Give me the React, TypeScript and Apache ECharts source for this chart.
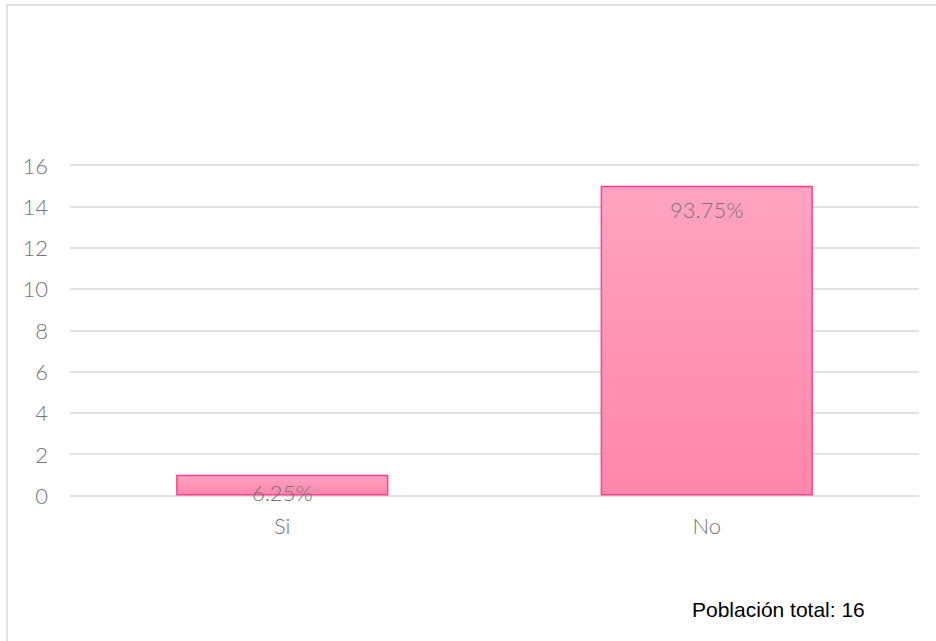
import React, { useEffect, useRef } from "react";
import * as echarts from "echarts";

const categories = ["Si", "No"];
const counts = [1, 15];
const percentLabels = ["6.25%", "93.75%"];
const yTicks = { min: 0, max: 16, interval: 2 };
const noteText = "Población total: 16";

export default function App() {
  const ref = useRef<HTMLDivElement>(null);
  useEffect(() => {
    if (!ref.current) return;
    const chart = echarts.init(ref.current, null, { renderer: "svg" });
    const labelDistances = [7, 13];
    const textColor = "#747474";
    chart.setOption({
      animation: false,
      backgroundColor: "#ffffff",
      grid: { left: 70, right: 17, top: 165, bottom: 145.5, containLabel: false },
      xAxis: {
        type: "category",
        data: categories,
        axisLine: { show: false },
        axisTick: { show: false },
        axisLabel: {
          color: textColor,
          fontFamily: "Lato",
          fontWeight: 300,
          fontSize: 22,
          margin: 19,
        },
      },
      yAxis: {
        type: "value",
        min: yTicks.min,
        max: yTicks.max,
        interval: yTicks.interval,
        axisLine: { show: false },
        axisTick: { show: false },
        splitLine: { lineStyle: { color: "#d9d9d9", width: 1.5 } },
        axisLabel: {
          color: textColor,
          fontFamily: "Lato",
          fontWeight: 300,
          fontSize: 22,
          margin: 22,
        },
      },
      series: [
        {
          type: "bar",
          barWidth: "50%",
          data: counts.map((v, i) => ({
            value: v,
            label: {
              show: true,
              position: "insideTop",
              distance: labelDistances[i],
              formatter: percentLabels[i],
            },
          })),
          itemStyle: {
            color: new echarts.graphic.LinearGradient(0, 0, 0, 1, [
              { offset: 0, color: "#ffa3c1" },
              { offset: 1, color: "#ff86ab" },
            ]),
            borderColor: "#ff3f8d",
            borderWidth: 1.5,
          },
          label: {
            color: textColor,
            fontFamily: "Lato",
            fontWeight: 300,
            fontSize: 22,
          },
        },
      ],
      graphic: [
        {
          type: "rect",
          shape: { x: 7, y: 5, width: 960, height: 700 },
          style: { fill: "none", stroke: "#d9d9d9", lineWidth: 1.5 },
          silent: true,
        },
        {
          type: "text",
          left: 692,
          top: 599,
          style: {
            text: noteText,
            fill: "#000000",
            font: "21px 'Liberation Sans', Arial, sans-serif",
          },
        },
      ],
    });
    return () => chart.dispose();
  }, []);
  return (
    <div
      ref={ref}
      style={{ position: "fixed", left: 0, top: 0, width: 936, height: 641 }}
    />
  );
}
